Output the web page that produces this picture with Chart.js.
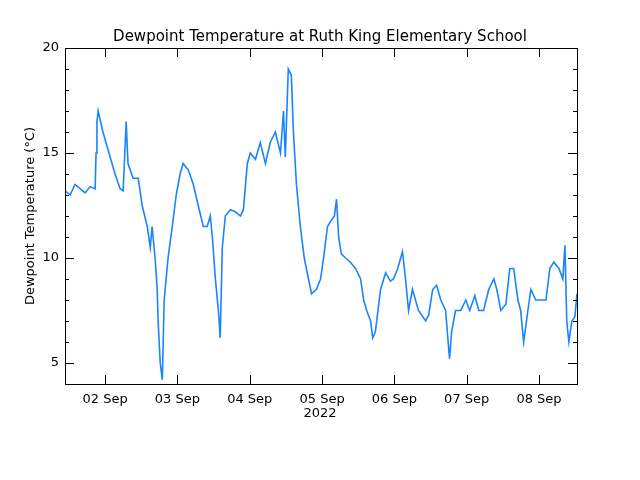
<!DOCTYPE html>
<html><head><meta charset="utf-8">
<script src="https://cdn.jsdelivr.net/npm/chart.js@4"></script>
<style>html,body{margin:0;background:#fff}#w{width:640px;height:480px}</style>
</head><body><div id="w"><canvas id="c"></canvas></div>
<script>
const hours=[-13.3,-11.6,-10.0,-8.3,-6.6,-5.0,-3.3,-3.0,-2.7,-2.3,-0.7,1.7,3.3,5.0,6.0,7.0,7.6,9.3,11.0,12.3,14.0,15.0,15.6,16.6,17.3,17.6,18.3,19.0,19.6,20.9,22.3,23.6,24.9,25.9,27.6,29.3,30.9,32.6,33.9,34.9,35.6,36.6,37.6,38.2,38.9,39.9,41.6,43.2,44.9,45.9,47.2,48.2,49.9,51.5,53.2,54.8,56.5,58.2,59.2,59.8,60.8,61.8,62.5,63.5,64.8,66.1,67.5,68.5,70.1,71.5,72.5,73.8,75.1,76.1,76.8,77.5,78.4,79.8,81.4,83.1,84.8,85.8,86.8,88.1,88.8,89.7,91.4,93.1,94.7,95.7,97.1,98.7,99.7,100.7,102.0,104.0,106.4,107.4,108.7,110.0,111.4,113.0,114.3,115.0,116.3,118.0,119.7,121.0,122.7,124.0,125.6,127.3,129.0,130.0,131.3,133.0,134.3,135.6,137.0,137.9,138.9,140.3,141.3,142.9,144.6,146.3,147.6,148.9,150.6,151.9,152.6,153.2,153.9,154.9,155.9,156.6];
const dewpoint=[13.2,13.0,13.5,13.3,13.1,13.4,13.3,15.0,16.5,17.0,16.0,14.8,14.0,13.3,13.2,16.5,14.5,13.8,13.8,12.5,11.5,10.5,11.5,10.0,8.5,7.0,5.0,4.2,8.0,10.0,11.5,13.0,14.0,14.5,14.2,13.5,12.5,11.5,11.5,12.0,11.0,9.0,7.5,6.2,10.5,12.0,12.3,12.2,12.0,12.3,14.5,15.0,14.7,15.5,14.5,15.5,16.0,15.0,17.0,14.8,19.0,18.7,16.0,13.5,11.5,10.0,9.0,8.3,8.5,9.0,10.0,11.5,11.8,12.0,12.8,11.0,10.2,10.0,9.8,9.5,9.0,8.0,7.5,7.0,6.2,6.5,8.5,9.3,8.9,9.0,9.5,10.3,9.0,7.5,8.5,7.5,7.0,7.3,8.5,8.7,8.0,7.5,5.2,6.5,7.5,7.5,8.0,7.5,8.2,7.5,7.5,8.5,9.0,8.5,7.5,7.8,9.5,9.5,8.0,7.5,6.0,7.5,8.5,8.0,8.0,8.0,9.5,9.8,9.5,9.0,10.6,7.0,6.0,7.0,7.2,8.3];
const tickHours=[0,24,48,72,96,120,144];
const tickLabels=['02 Sep','03 Sep','04 Sep','05 Sep','06 Sep','07 Sep','08 Sep'];
const yTicks=[5,10,15,20];
const FONT='"DejaVu Sans", sans-serif';
const deco={id:'deco',afterDraw(ch){
  const c=ch.ctx,a=ch.chartArea,x=ch.scales.x,y=ch.scales.y;
  c.save();c.strokeStyle='#000';c.lineWidth=1;
  c.strokeRect(a.left+0.5,a.top+0.5,a.right-a.left,a.bottom-a.top);
  c.beginPath();
  for(const v of yTicks){const p=Math.round(y.getPixelForValue(v))+0.5;c.moveTo(a.left,p);c.lineTo(a.left+9,p);c.moveTo(a.right,p);c.lineTo(a.right-9,p);}
  for(let v=4;v<=20;v++){if(v%5===0)continue;const p=Math.round(y.getPixelForValue(v))+0.5;c.moveTo(a.left,p);c.lineTo(a.left+4,p);c.moveTo(a.right,p);c.lineTo(a.right-4,p);}
  for(const h of tickHours){const p=Math.round(x.getPixelForValue(h))+0.5;c.moveTo(p,a.bottom);c.lineTo(p,a.bottom-9);c.moveTo(p,a.top);c.lineTo(p,a.top+9);}
  c.stroke();
  c.fillStyle='#000';c.font='15px '+FONT;c.textAlign='center';c.textBaseline='alphabetic';
  c.fillText('Dewpoint Temperature at Ruth King Elementary School',320,41);
  c.font='13px '+FONT;c.fillText('2022',320,417);
  c.translate(34,(a.top+a.bottom)/2);c.rotate(-Math.PI/2);c.fillText('Dewpoint Temperature (°C)',0,0);
  c.restore();
}};
new Chart(document.getElementById('c'),{
  type:'line',
  data:{datasets:[{data:hours.map((h,i)=>({x:h,y:dewpoint[i]})),borderColor:'#1a84ff',borderWidth:1.6,pointRadius:0,tension:0}]},
  options:{responsive:true,maintainAspectRatio:false,animation:false,
    layout:{padding:{top:48,right:63,left:0,bottom:0}},
    plugins:{legend:{display:false},tooltip:{enabled:false},title:{display:false}},
    scales:{
      x:{type:'linear',min:-13.3,max:156.6,
        afterBuildTicks:s=>{s.ticks=tickHours.map(v=>({value:v}));},
        afterFit:s=>{s.height=96;},
        grid:{display:false,drawTicks:false},border:{display:false},
        ticks:{autoSkip:false,maxRotation:0,padding:8,color:'#000',font:{family:FONT,size:13},callback:v=>tickLabels[tickHours.indexOf(v)]}},
      y:{min:4,max:20,
        afterBuildTicks:s=>{s.ticks=yTicks.map(v=>({value:v}));},
        afterFit:s=>{s.width=65;},
        grid:{display:false,drawTicks:false},border:{display:false},
        ticks:{padding:6,color:'#000',font:{family:FONT,size:13}}}
    }},
  plugins:[deco]
});
</script></body></html>
